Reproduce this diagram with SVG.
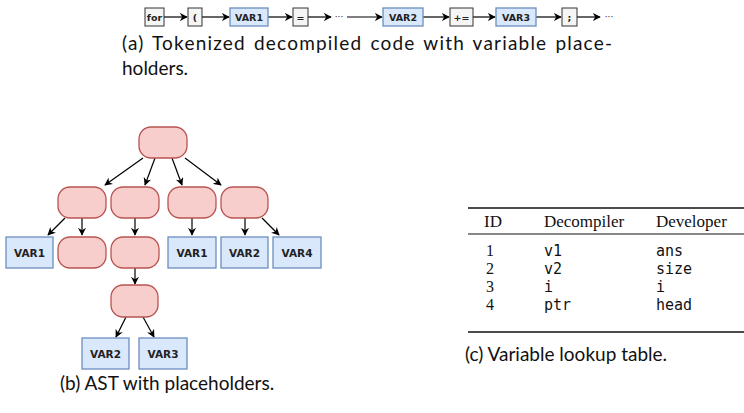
<svg xmlns="http://www.w3.org/2000/svg" width="744" height="413" viewBox="0 0 744 413">
<style>
.tok{fill:#f5f5f5;stroke:#333333;stroke-width:1}
.var{fill:#dae8fc;stroke:#6c8ebf;stroke-width:1.3}
.ast{fill:#f8cecc;stroke:#b85450;stroke-width:1.3}
.tt{font-family:"DejaVu Sans",sans-serif;font-weight:bold;font-size:9.5px;fill:#222;text-anchor:middle}
.vt{font-family:"DejaVu Sans",sans-serif;font-weight:bold;font-size:10.5px;fill:#222;text-anchor:middle}
.e{stroke:#000;stroke-width:1.2;fill:none;marker-end:url(#ah)}
.cap{font-family:Lato,"Open Sans",sans-serif;font-size:19px;fill:#111}
.th{font-family:"Liberation Serif",serif;font-size:17px;fill:#111}
.tn{font-family:"Liberation Serif",serif;font-size:16px;fill:#111}
.tm{font-family:"DejaVu Sans Mono",monospace;font-size:15px;fill:#111}
.dots{font-family:"DejaVu Sans",sans-serif;font-size:9px;fill:#222}
</style>
<defs>
<marker id="ah" viewBox="0 0 10 10" refX="9" refY="5" markerWidth="8" markerHeight="8" orient="auto" markerUnits="userSpaceOnUse">
<path d="M0,0 L10,5 L0,10 L3,5 z" fill="#000"/>
</marker>
</defs>

<g id="connectors">
<line class="e" x1="164" y1="17" x2="187" y2="17"/>
<line class="e" x1="202" y1="17" x2="229" y2="17"/>
<line class="e" x1="268" y1="17" x2="292" y2="17"/>
<line class="e" x1="308" y1="17" x2="331" y2="17"/>
<line class="e" x1="347" y1="17" x2="382" y2="17"/>
<line class="e" x1="423" y1="17" x2="449" y2="17"/>
<line class="e" x1="473" y1="17" x2="495" y2="17"/>
<line class="e" x1="536" y1="17" x2="561" y2="17"/>
<line class="e" x1="577" y1="17" x2="600" y2="17"/>

<line class="e" x1="143" y1="158" x2="105" y2="185"/>
<line class="e" x1="155" y1="158" x2="145" y2="185"/>
<line class="e" x1="172" y1="158" x2="182" y2="185"/>
<line class="e" x1="185" y1="158" x2="221" y2="185"/>
<line class="e" x1="65" y1="218" x2="48" y2="235"/>
<line class="e" x1="82" y1="218" x2="82" y2="235"/>
<line class="e" x1="135" y1="218" x2="135" y2="235"/>
<line class="e" x1="192" y1="218" x2="192" y2="235"/>
<line class="e" x1="245" y1="218" x2="245" y2="235"/>
<line class="e" x1="262" y1="218" x2="279" y2="235"/>
<line class="e" x1="135" y1="268" x2="135" y2="284"/>
<line class="e" x1="126" y1="317" x2="116" y2="337"/>
<line class="e" x1="143" y1="317" x2="154" y2="337"/>
</g>

<g id="tok-for"><rect class="tok" x="145" y="8" width="19" height="18"/><text class="tt" x="154.5" y="20.5">for</text></g>
<g id="tok-lparen"><rect class="tok" x="188" y="8" width="14" height="18"/><text class="tt" x="195" y="20.5">(</text></g>
<g id="tok-var1"><rect class="var" x="230" y="8" width="38" height="18"/><text class="tt" x="249" y="20.5">VAR1</text></g>
<g id="tok-eq"><rect class="tok" x="293" y="8" width="15" height="18"/><text class="tt" x="300.5" y="20.5">=</text></g>
<g id="tok-dots1"><text class="dots" x="339" y="20" text-anchor="middle">···</text></g>
<g id="tok-var2"><rect class="var" x="383" y="8" width="40" height="18"/><text class="tt" x="403" y="20.5">VAR2</text></g>
<g id="tok-pluseq"><rect class="tok" x="450" y="8" width="23" height="18"/><text class="tt" x="461.5" y="20.5">+=</text></g>
<g id="tok-var3"><rect class="var" x="496" y="8" width="40" height="18"/><text class="tt" x="516" y="20.5">VAR3</text></g>
<g id="tok-semi"><rect class="tok" x="562" y="8" width="15" height="18"/><text class="tt" x="569.5" y="20.5">;</text></g>
<g id="tok-dots2"><text class="dots" x="609" y="20" text-anchor="middle">···</text></g>

<g id="cap-a">
<text class="cap" x="122" y="50" word-spacing="2" textLength="490" lengthAdjust="spacing">(a) Tokenized decompiled code with variable place-</text>
<text class="cap" x="122" y="75">holders.</text>
</g>

<g id="ast-root"><rect class="ast" x="139" y="127" width="48" height="31" rx="12"/></g>
<g id="ast-a"><rect class="ast" x="58" y="187" width="48" height="31" rx="12"/></g>
<g id="ast-b"><rect class="ast" x="111" y="187" width="48" height="31" rx="12"/></g>
<g id="ast-c"><rect class="ast" x="168" y="187" width="48" height="31" rx="12"/></g>
<g id="ast-d"><rect class="ast" x="221" y="187" width="47" height="31" rx="12"/></g>
<g id="ast-var1a"><rect class="var" x="6" y="237" width="47" height="31"/><text class="vt" x="29.5" y="256.5">VAR1</text></g>
<g id="ast-a1"><rect class="ast" x="58" y="237" width="48" height="31" rx="12"/></g>
<g id="ast-b1"><rect class="ast" x="111" y="237" width="48" height="31" rx="12"/></g>
<g id="ast-var1b"><rect class="var" x="168" y="237" width="48" height="31"/><text class="vt" x="192" y="256.5">VAR1</text></g>
<g id="ast-var2a"><rect class="var" x="221" y="237" width="47" height="31"/><text class="vt" x="244.5" y="256.5">VAR2</text></g>
<g id="ast-var4"><rect class="var" x="273" y="237" width="48" height="31"/><text class="vt" x="297" y="256.5">VAR4</text></g>
<g id="ast-b2"><rect class="ast" x="111" y="285" width="47" height="32" rx="12"/></g>
<g id="ast-var2b"><rect class="var" x="82" y="338" width="47" height="31"/><text class="vt" x="105.5" y="357.5">VAR2</text></g>
<g id="ast-var3"><rect class="var" x="139" y="338" width="48" height="31"/><text class="vt" x="163" y="357.5">VAR3</text></g>

<g id="cap-b"><text class="cap" x="60" y="390">(b) AST with placeholders.</text></g>

<g id="table">
<line x1="468" y1="208" x2="744" y2="208" stroke="#111" stroke-width="1.5"/>
<text class="th" x="484" y="227">ID</text>
<text class="th" x="544" y="227">Decompiler</text>
<text class="th" x="656" y="227">Developer</text>
<line x1="468" y1="234" x2="744" y2="234" stroke="#111" stroke-width="1"/>
<text class="tn" x="486" y="256">1</text><text class="tm" x="544" y="256">v1</text><text class="tm" x="656" y="256">ans</text>
<text class="tn" x="486" y="274">2</text><text class="tm" x="544" y="274">v2</text><text class="tm" x="656" y="274">size</text>
<text class="tn" x="486" y="292">3</text><text class="tm" x="544" y="292">i</text><text class="tm" x="656" y="292">i</text>
<text class="tn" x="486" y="310">4</text><text class="tm" x="544" y="310">ptr</text><text class="tm" x="656" y="310">head</text>
<line x1="468" y1="332" x2="744" y2="332" stroke="#111" stroke-width="1.5"/>
</g>

<g id="cap-c"><text class="cap" x="465" y="361">(c) Variable lookup table.</text></g>
</svg>
